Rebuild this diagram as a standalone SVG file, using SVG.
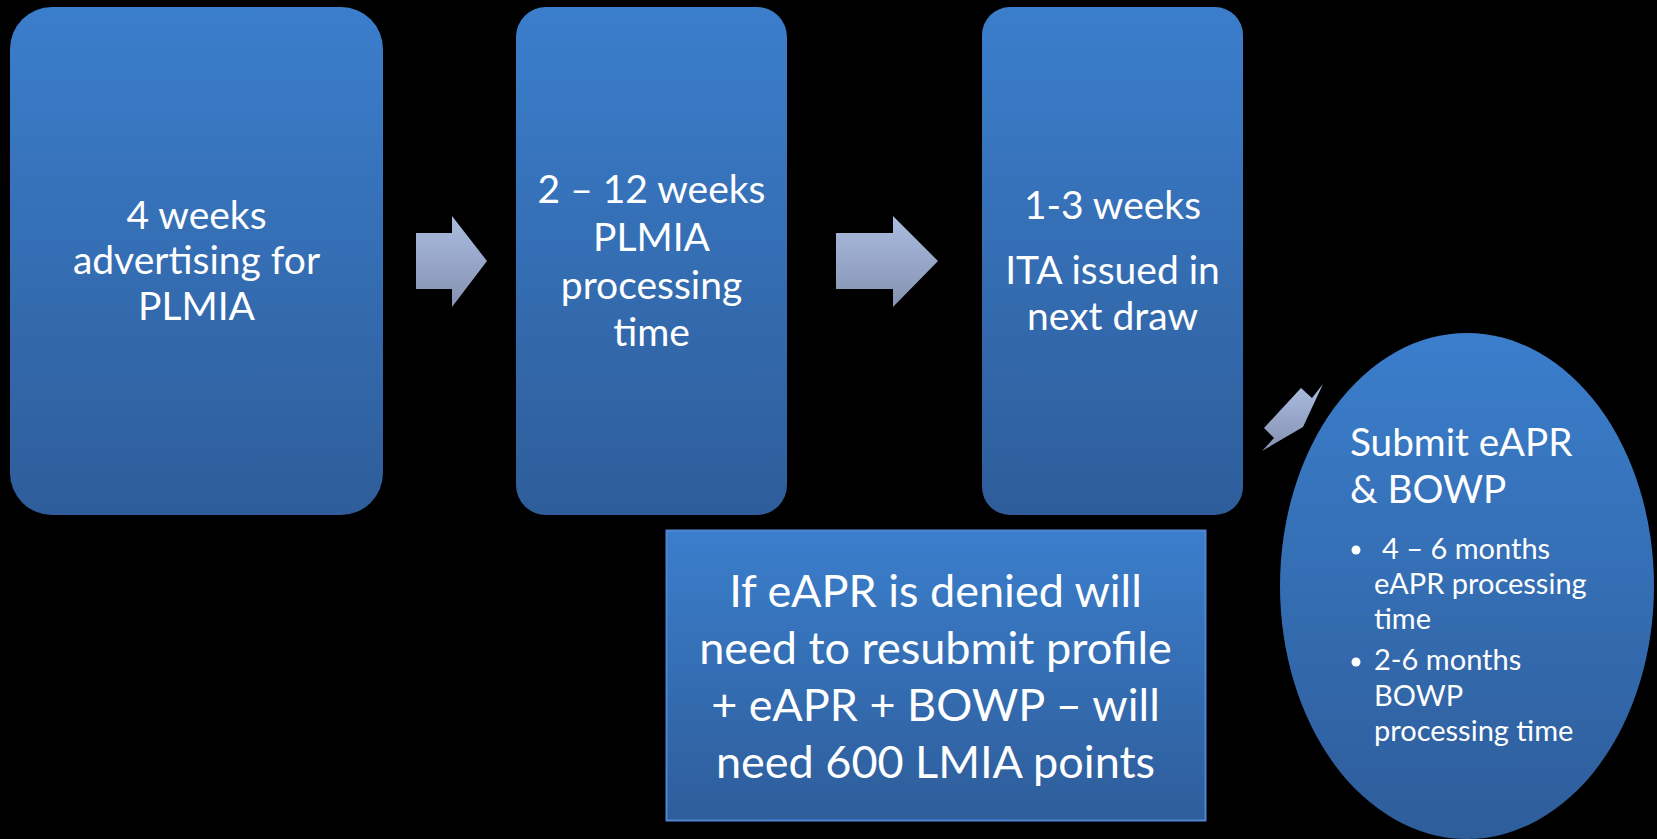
<svg xmlns="http://www.w3.org/2000/svg" width="1657" height="839" viewBox="0 0 1657 839">
  <defs>
    <linearGradient id="blue" x1="0" y1="0" x2="0" y2="1">
      <stop offset="0" stop-color="#3b7ecc"/>
      <stop offset="1" stop-color="#2e5d9a"/>
    </linearGradient>
    <linearGradient id="grey" x1="0" y1="0" x2="0" y2="1">
      <stop offset="0" stop-color="#abbce0"/>
      <stop offset="1" stop-color="#8592b1"/>
    </linearGradient>
    <style>
      .node { fill: url(#blue); }
      .arrow { fill: url(#grey); }
      text { font-family: Lato, "Open Sans", "Liberation Sans", sans-serif; fill: #ffffff; }
      .c { text-anchor: middle; }
      .t1 { font-size: 39px; }
      .t2 { font-size: 45px; }
      .t3 { font-size: 38.7px; }
      .t4 { font-size: 29px; }
    </style>
  </defs>
  <rect x="0" y="0" width="1657" height="839" fill="#000000"/>

  <g id="connectors">
    <polygon class="arrow" points="416,233 452,233 452,216 487,261 452,307 452,289 416,289"/>
    <polygon class="arrow" points="836,233 893,233 893,216 938,261 893,307 893,289 836,289"/>
    <polygon class="arrow" points="1301,388 1312,398 1323,384 1303,427 1262,451 1274,438 1264,428"/>
  </g>

  <g id="node-advertising">
    <rect class="node" x="10" y="7" width="373" height="508" rx="42" ry="42"/>
    <text class="c t1" x="196.5" y="229">4 weeks</text>
    <text class="c t1" x="196.5" y="274">advertising for</text>
    <text class="c t1" x="196.5" y="320">PLMIA</text>
  </g>

  <g id="node-processing">
    <rect class="node" x="516" y="7" width="271" height="508" rx="30" ry="30"/>
    <text class="c t1" x="651.5" y="203">2 – 12 weeks</text>
    <text class="c t1" x="651.5" y="251">PLMIA</text>
    <text class="c t1" x="651.5" y="299">processing</text>
    <text class="c t1" x="651.5" y="346">time</text>
  </g>

  <g id="node-ita">
    <rect class="node" x="982" y="7" width="261" height="508" rx="28" ry="28"/>
    <text class="c t1" x="1112.5" y="219">1-3 weeks</text>
    <text class="c t1" x="1112.5" y="284">ITA issued in</text>
    <text class="c t1" x="1112.5" y="330">next draw</text>
  </g>

  <g id="node-denied">
    <rect class="node" x="666.5" y="530.5" width="539" height="290" stroke="#4f86d2" stroke-width="2"/>
    <text class="c t2" x="935.5" y="607">If eAPR is denied will</text>
    <text class="c t2" x="935.5" y="664">need to resubmit profile</text>
    <text class="c t2" x="935.5" y="721">+ eAPR + BOWP – will</text>
    <text class="c t2" x="935.5" y="778">need 600 LMIA points</text>
  </g>

  <g id="node-submit">
    <ellipse class="node" cx="1467" cy="586" rx="187" ry="253"/>
    <text class="t3" x="1350" y="456">Submit eAPR</text>
    <text class="t3" x="1350" y="503">&amp; BOWP</text>
    <circle cx="1356" cy="550" r="4.5" fill="#ffffff"/>
    <text class="t4" x="1382" y="559">4 – 6 months</text>
    <text class="t4" x="1374" y="594">eAPR processing</text>
    <text class="t4" x="1374" y="629">time</text>
    <circle cx="1356" cy="662" r="4.5" fill="#ffffff"/>
    <text class="t4" x="1374" y="670">2-6 months</text>
    <text class="t4" x="1374" y="706">BOWP</text>
    <text class="t4" x="1374" y="741">processing time</text>
  </g>
</svg>
